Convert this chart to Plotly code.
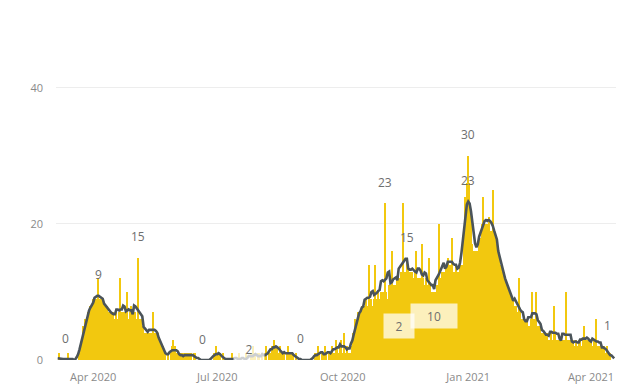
import pandas as pd
import plotly.graph_objects as go

# ---- data -------------------------------------------------------------
start_date = "2020-03-06"
daily_cases = [
    0, 1, 0, 0, 0, 0, 0, 0, 1, 0,
    0, 0, 0, 0, 0, 0, 1, 2, 3, 5,
    6, 6, 7, 7, 8, 8, 9, 9, 9, 9,
    12, 9, 9, 9, 8, 8, 8, 7, 7, 7,
    7, 7, 6, 7, 6, 7, 12, 7, 6, 7,
    7, 10, 6, 7, 8, 7, 6, 7, 6, 15,
    6, 6, 5, 5, 4, 4, 4, 4, 4, 4,
    7, 4, 4, 4, 4, 3, 2, 2, 1, 1,
    0, 1, 0, 1, 2, 3, 2, 1, 1, 0,
    1, 1, 0, 1, 1, 0, 1, 1, 1, 0,
    1, 1, 0, 0, 0, 0, 0, 0, 0, 0,
    0, 0, 0, 0, 0, 1, 2, 1, 1, 1,
    0, 1, 0, 0, 0, 0, 0, 0, 1, 0,
    0, 0, 0, 1, 0, 0, 0, 0, 1, 0,
    0, 0, 1, 2, 0, 1, 0, 1, 1, 0,
    1, 0, 1, 2, 0, 1, 1, 2, 2, 3,
    2, 2, 1, 2, 1, 1, 1, 0, 1, 2,
    1, 1, 1, 1, 0, 1, 0, 0, 0, 0,
    0, 0, 0, 0, 0, 0, 0, 0, 0, 1,
    1, 2, 1, 0, 1, 1, 2, 1, 0, 1,
    1, 2, 1, 1, 3, 2, 1, 2, 3, 1,
    4, 1, 2, 1, 1, 1, 2, 4, 6, 5,
    7, 7, 7, 8, 8, 8, 9, 8, 14, 8,
    9, 8, 9, 14, 9, 10, 9, 10, 10, 10,
    23, 10, 9, 11, 11, 16, 11, 11, 11, 12,
    12, 12, 13, 23, 13, 13, 15, 14, 13, 13,
    13, 12, 13, 16, 12, 12, 12, 17, 12, 11,
    12, 11, 15, 11, 10, 10, 10, 10, 11, 11,
    20, 12, 13, 13, 13, 14, 15, 14, 14, 18,
    13, 13, 14, 13, 13, 14, 14, 14, 18, 24,
    26, 30, 26, 22, 17, 16, 16, 16, 16, 17,
    18, 20, 24, 20, 20, 20, 21, 19, 19, 25,
    19, 18, 17, 16, 15, 14, 13, 13, 12, 11,
    11, 10, 10, 9, 9, 8, 8, 7, 12, 7,
    6, 6, 6, 6, 6, 5, 5, 6, 10, 6,
    6, 10, 5, 5, 5, 4, 4, 4, 4, 4,
    3, 3, 4, 3, 8, 4, 3, 3, 3, 3,
    3, 3, 2, 10, 3, 2, 3, 3, 3, 2,
    3, 2, 3, 3, 2, 3, 5, 3, 3, 3,
    3, 3, 2, 3, 2, 6, 2, 2, 2, 2,
    2, 2, 1, 2, 1, 1, 0, 0, 0,
]

tick_dates = ["2020-04-01", "2020-07-01", "2020-10-01", "2021-01-01", "2021-04-01"]
tick_labels = ["Apr 2020", "Jul 2020", "Oct 2020", "Jan 2021", "Apr 2021"]
y_ticks = [0, 20, 40]

# value labels: (date, text, which series the label sits on)
label_dates = ["2020-03-12", "2020-04-05", "2020-05-04", "2020-06-20", "2020-08-31",
               "2020-11-01", "2020-11-17", "2021-01-01", "2021-01-01", "2021-04-13"]
label_texts = ["0", "9", "15", "0", "0", "23", "15", "30", "23", "1"]
label_series = ["avg", "avg", "bar", "avg", "avg", "bar", "avg", "bar", "avg", "bar"]

# boxed labels
box_dates = ["2020-07-24", "2020-11-11", "2020-12-07"]
box_levels = [1.6, 5.0, 6.5]
box_texts = ["2", "2", "10"]

# ---- derived ----------------------------------------------------------
dates = pd.date_range(start_date, periods=len(daily_cases), freq="D")
s = pd.Series(daily_cases, index=dates, dtype=float)
avg = s.rolling(7, center=True, min_periods=1).mean()

BAR = "#F2C80F"
LINE = "#4B5459"
TXT = "#6E6E6E"
FONT = "Open Sans, DejaVu Sans, sans-serif"

fig = go.Figure()
fig.add_trace(go.Bar(x=dates, y=s.values, marker=dict(color=BAR, line=dict(width=0)),
                     name="Daily", hoverinfo="x+y"))
fig.add_trace(go.Scatter(x=dates, y=avg.values, mode="lines",
                         line=dict(color=LINE, width=2.6), name="7-day average"))

for d, t, ser in zip(label_dates, label_texts, label_series):
    ts = pd.Timestamp(d)
    yv = s[ts] if ser == "bar" else avg[ts]
    fig.add_annotation(x=ts, y=yv, text=t, showarrow=False, yshift=21,
                       font=dict(size=12, color=TXT, family=FONT))

for d, lv, t in zip(box_dates, box_levels, box_texts):
    fig.add_annotation(x=pd.Timestamp(d), y=lv, text=t, showarrow=False,
                       bgcolor="rgba(255,255,255,0.72)", borderpad=4,
                       width=22 if len(t) == 1 else 38, height=16,
                       font=dict(size=12, color=TXT, family=FONT))

fig.update_layout(
    width=620, height=379,
    margin=dict(l=48, r=12, t=73, b=27, autoexpand=False),
    paper_bgcolor="white", plot_bgcolor="white",
    showlegend=False, bargap=0,
    font=dict(family=FONT, size=11, color="#8A8A8A"),
)
fig.update_xaxes(
    range=["2020-03-04 18:00", "2021-04-19 08:00"],
    tickvals=tick_dates, ticktext=tick_labels,
    showgrid=False, zeroline=False, showline=False, ticks="",
    ticklabelstandoff=9, automargin=False,
    tickfont=dict(size=11, color="#8A8A8A"),
)
fig.update_yaxes(
    range=[0, 41], tickvals=y_ticks,
    showgrid=True, gridcolor="#EDEDED", gridwidth=1,
    zeroline=False, showline=False, ticks="",
    ticklabelstandoff=12, automargin=False,
    tickfont=dict(size=11, color="#8A8A8A"),
)

fig.write_html("out.html")
